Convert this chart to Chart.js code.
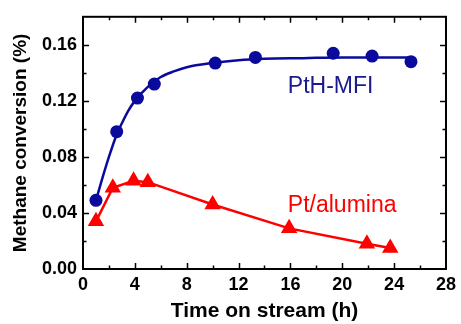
<!DOCTYPE html>
<html>
<head>
<meta charset="utf-8">
<script src="https://cdn.jsdelivr.net/npm/chart.js@4.4.1/dist/chart.umd.min.js"></script>
<style>
html,body{margin:0;padding:0;background:#fff;}
#wrap{width:461px;height:324px;position:relative;}
</style>
</head>
<body>
<div id="wrap"><canvas id="c"></canvas></div>
<script>
// Data
const mfiTime = [1.0, 2.6, 4.2, 5.5, 10.2, 13.3, 19.3, 22.3, 25.3];
const mfiConv = [0.049, 0.098, 0.122, 0.132, 0.147, 0.151, 0.154, 0.152, 0.148];

// drawn fit curve for PtH-MFI
const fitTime = [1.0, 1.5, 2.0, 2.6, 3.0, 3.5, 4.0, 5.0, 6.0, 7.0, 8.0, 10.0, 12.0, 14.0, 17.0, 20.0, 25.3];
const fitConv = [0.049, 0.065, 0.080, 0.096, 0.104, 0.113, 0.120, 0.130, 0.137, 0.141, 0.144, 0.147, 0.149, 0.150, 0.1505, 0.151, 0.151];

const aluTime = [1.0, 2.3, 3.9, 5.0, 10.0, 15.9, 21.9, 23.7];
const aluConv = [0.034, 0.058, 0.063, 0.062, 0.046, 0.029, 0.018, 0.015];

const xTicks = [0, 4, 8, 12, 16, 20, 24, 28];
const yTicks = [0.00, 0.04, 0.08, 0.12, 0.16];

const seriesLabels = ['PtH-MFI', 'Pt/alumina'];

const BLUE = '#0a0a9c';
const RED = '#ff0000';

const toXY = (xs, ys) => xs.map((x, i) => ({x: x, y: ys[i]}));

const framePlugin = {
  id: 'frame',
  afterDatasetsDraw(chart) {
    const ctx = chart.ctx;
    const a = chart.chartArea;
    const xs = chart.scales.x, ys = chart.scales.y;
    ctx.save();
    ctx.strokeStyle = '#000';
    ctx.lineWidth = 2;
    ctx.strokeRect(a.left, a.top, a.right - a.left, a.bottom - a.top);
    ctx.lineWidth = 1.5;
    ctx.beginPath();
    for (let v = 2; v < 28; v += 2) {
      const px = Math.round(xs.getPixelForValue(v)) + 0.5;
      const len = (v % 4 === 0) ? 6 : 3.5;
      ctx.moveTo(px, a.bottom); ctx.lineTo(px, a.bottom - len);
      ctx.moveTo(px, a.top); ctx.lineTo(px, a.top + len);
    }
    for (let k = 1; k < 9; k++) {
      const v = k * 0.02;
      const py = Math.round(ys.getPixelForValue(v)) + 0.5;
      const len = (k % 2 === 0) ? 6 : 3.5;
      ctx.moveTo(a.left, py); ctx.lineTo(a.left + len, py);
      ctx.moveTo(a.right, py); ctx.lineTo(a.right - len, py);
    }
    ctx.stroke();
    // series labels
    ctx.font = '23px "Liberation Sans", Arial, sans-serif';
    ctx.textBaseline = 'alphabetic';
    ctx.textAlign = 'left';
    ctx.fillStyle = '#1a1a8c';
    ctx.fillText(seriesLabels[0], xs.getPixelForValue(15.8), ys.getPixelForValue(0.1255));
    ctx.fillStyle = RED;
    ctx.fillText(seriesLabels[1], xs.getPixelForValue(15.8), ys.getPixelForValue(0.0406));
    ctx.restore();
  }
};

new Chart(document.getElementById('c'), {
  type: 'scatter',
  data: {
    datasets: [
      {
        label: 'fit',
        data: toXY(fitTime, fitConv),
        showLine: true,
        borderColor: BLUE,
        borderWidth: 2.5,
        pointRadius: 0,
        cubicInterpolationMode: 'monotone',
        fill: false
      },
      {
        label: seriesLabels[0],
        data: toXY(mfiTime, mfiConv),
        showLine: false,
        pointStyle: 'circle',
        pointRadius: 6.5,
        backgroundColor: BLUE,
        borderColor: BLUE,
        borderWidth: 0
      },
      {
        label: seriesLabels[1],
        data: toXY(aluTime, aluConv),
        showLine: true,
        tension: 0,
        borderColor: RED,
        borderWidth: 2.5,
        pointStyle: 'triangle',
        pointRadius: 9.5,
        backgroundColor: RED,
        pointBorderColor: RED,
        pointBorderWidth: 0
      }
    ]
  },
  options: {
    responsive: true,
    maintainAspectRatio: false,
    animation: false,
    layout: {padding: {left: 9, right: 13, top: 14, bottom: 0}},
    plugins: {legend: {display: false}, tooltip: {enabled: false}},
    scales: {
      x: {
        type: 'linear',
        min: 0, max: 28,
        afterFit(s) { s.height = 55; },
        afterBuildTicks(s) { s.ticks = xTicks.map(v => ({value: v})); },
        grid: {display: false, drawTicks: false},
        border: {display: false},
        ticks: {
          padding: 5,
          color: '#000',
          font: {family: '"Liberation Sans", Arial, sans-serif', size: 18, weight: 'bold'},
          callback: v => String(v),
          maxRotation: 0,
          autoSkip: false
        },
        title: {
          display: true,
          text: 'Time on stream (h)',
          color: '#000',
          padding: {top: 0, bottom: 0},
          font: {family: '"Liberation Sans", Arial, sans-serif', size: 21, weight: 'bold'}
        }
      },
      y: {
        type: 'linear',
        min: 0, max: 0.18,
        afterFit(s) { s.width = 74; },
        afterBuildTicks(s) { s.ticks = yTicks.map(v => ({value: v})); },
        grid: {display: false, drawTicks: false},
        border: {display: false},
        ticks: {
          padding: 6,
          color: '#000',
          font: {family: '"Liberation Sans", Arial, sans-serif', size: 18, weight: 'bold'},
          callback: v => Number(v).toFixed(2),
          autoSkip: false
        },
        title: {
          display: true,
          text: 'Methane conversion (%)',
          color: '#000',
          padding: {top: 0, bottom: 0},
          font: {family: '"Liberation Sans", Arial, sans-serif', size: 19, weight: 'bold'}
        }
      }
    }
  },
  plugins: [framePlugin]
});
</script>
</body>
</html>
